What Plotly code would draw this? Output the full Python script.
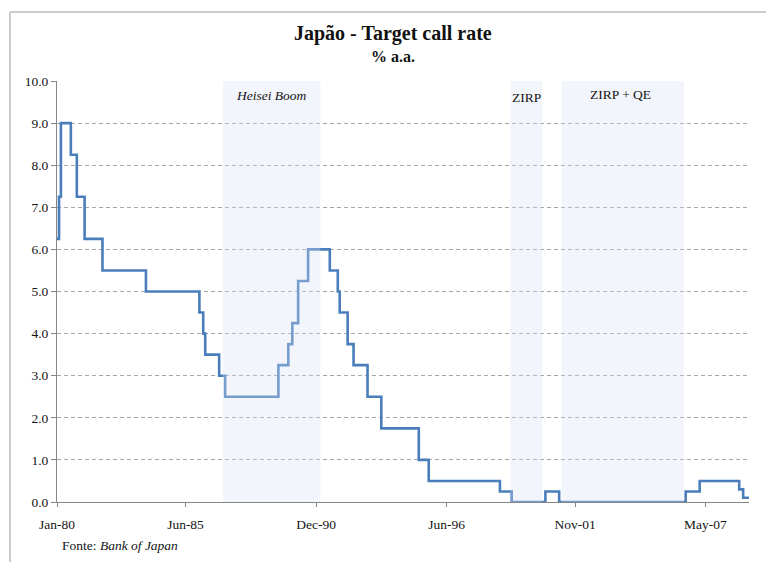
import plotly.graph_objects as go

# Japan target call rate (% a.a.): month each new level took effect, and the level
change_months = [
    "1980-01-01", "1980-02-01", "1980-03-01", "1980-08-01", "1980-11-01",
    "1981-03-01", "1981-12-01", "1983-10-01", "1986-01-01", "1986-03-01",
    "1986-04-01", "1986-11-01", "1987-02-01", "1989-05-01", "1989-10-01",
    "1989-12-01", "1990-03-01", "1990-08-01", "1991-07-01", "1991-11-01",
    "1991-12-01", "1992-04-01", "1992-07-01", "1993-02-01", "1993-09-01",
    "1995-04-01", "1995-09-01", "1998-09-01", "1999-03-01", "2000-08-01",
    "2001-03-01", "2006-07-01", "2007-02-01", "2008-10-01", "2008-12-01",
    "2009-03-01",
]
rates = [
    6.25, 7.25, 9.0, 8.25, 7.25,
    6.25, 5.5, 5.0, 4.5, 4.0,
    3.5, 3.0, 2.5, 3.25, 3.75,
    4.25, 5.25, 6.0, 5.5, 5.0,
    4.5, 3.75, 3.25, 2.5, 1.75,
    1.0, 0.5, 0.25, 0.0, 0.25,
    0.0, 0.25, 0.5, 0.3, 0.1,
    0.1,
]

# Policy periods highlighted on the chart
period_names = ["<i>Heisei Boom</i>", "ZIRP", "ZIRP + QE"]
period_starts = ["1986-12-28", "1999-02-12", "2001-04-10"]
period_ends = ["1991-02-06", "2000-06-12", "2006-06-01"]
period_label_x = ["1989-01-15", "1999-10-12", "2003-10-01"]

tick_dates = ["1980-01-01", "1985-06-01", "1990-12-01", "1996-06-01", "2001-11-01", "2007-05-01"]
tick_text = ["Jan-80", "Jun-85", "Dec-90", "Jun-96", "Nov-01", "May-07"]

W, H = 766, 562
ML, MR, MT, MB = 57, 17, 81, 60
PW, PH = W - ML - MR, H - MT - MB


def paper_x(px):
    return (px - ML) / PW


def paper_y(py):
    return (H - MB - py) / PH


SERIF = "Liberation Serif, Times New Roman, serif"
TEXT = "#141414"

fig = go.Figure()
fig.add_trace(go.Scatter(
    x=change_months, y=rates, mode="lines",
    line=dict(color="#4a7ebb", width=2.6, shape="hv"),
    hoverinfo="skip", showlegend=False,
))

shapes = []
annotations = []
for name, x0, x1, xl in zip(period_names, period_starts, period_ends, period_label_x):
    shapes.append(dict(
        type="rect", xref="x", yref="paper", x0=x0, x1=x1, y0=0, y1=1,
        fillcolor="rgba(215,225,242,0.32)", line=dict(width=0), layer="above",
    ))
for name, xl, py in zip(period_names, period_label_x, [95, 97, 94]):
    annotations.append(dict(
        x=xl, y=paper_y(py), xref="x", yref="paper", text=name, showarrow=False,
        font=dict(family=SERIF, size=13.5, color=TEXT), xanchor="center", yanchor="middle",
    ))

# outer chart frame: left and top edges
frame = dict(xref="paper", yref="paper", line=dict(color="#cccccc", width=2), layer="below")
shapes.append(dict(type="line", x0=paper_x(10), x1=paper_x(10), y0=paper_y(H + 5), y1=paper_y(12), **frame))
shapes.append(dict(type="line", x0=paper_x(10), x1=paper_x(W + 5), y0=paper_y(12), y1=paper_y(12), **frame))

annotations += [
    dict(x=paper_x(393), y=paper_y(33), xref="paper", yref="paper",
         text="<b>Japão - Target call rate</b>", showarrow=False,
         font=dict(family=SERIF, size=20, color="#111111"), xanchor="center", yanchor="middle"),
    dict(x=paper_x(393), y=paper_y(56), xref="paper", yref="paper",
         text="<b>% a.a.</b>", showarrow=False,
         font=dict(family=SERIF, size=16, color="#111111"), xanchor="center", yanchor="middle"),
    dict(x=paper_x(60), y=paper_y(545), xref="paper", yref="paper",
         text="Fonte: <i>Bank of Japan</i>", showarrow=False,
         font=dict(family=SERIF, size=13.5, color=TEXT), xanchor="left", yanchor="middle"),
]

fig.update_layout(
    width=W, height=H,
    margin=dict(l=ML, r=MR, t=MT, b=MB),
    paper_bgcolor="white", plot_bgcolor="white",
    shapes=shapes, annotations=annotations,
    showlegend=False,
)
fig.update_xaxes(
    type="date", range=["1980-01-01", "2009-03-01"],
    tickmode="array", tickvals=tick_dates, ticktext=tick_text,
    showgrid=False, zeroline=False,
    showline=True, linecolor="#878787", linewidth=1,
    ticks="outside", ticklen=4, tickcolor="#878787",
    ticklabelstandoff=6,
    tickfont=dict(family=SERIF, size=13.5, color=TEXT),
)
fig.update_yaxes(
    range=[0, 10], tickmode="linear", tick0=0, dtick=1, tickformat=".1f",
    showgrid=True, gridcolor="#a6a6a6", gridwidth=1, griddash="4px,3px",
    zeroline=False,
    showline=True, linecolor="#878787", linewidth=1,
    ticks="outside", ticklen=5, tickcolor="#878787",
    tickfont=dict(family=SERIF, size=13.5, color=TEXT),
)

fig.write_html("out.html")
